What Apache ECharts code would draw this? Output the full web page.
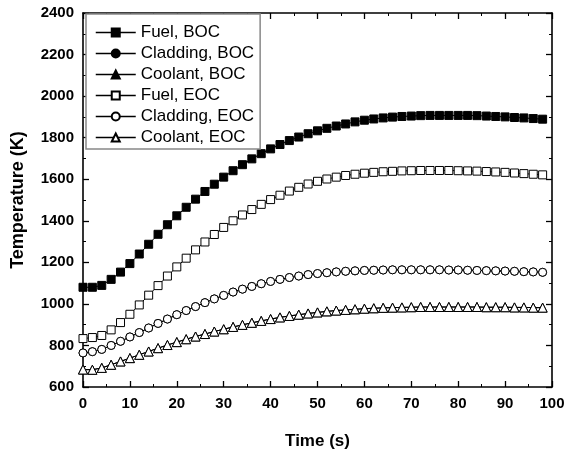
<!DOCTYPE html>
<html>
<head>
<meta charset="utf-8">
<script src="https://cdn.jsdelivr.net/npm/echarts@6/dist/echarts.min.js"></script>
<style>
html,body{margin:0;padding:0;background:#fff;}
#chart{width:573px;height:455px;}
</style>
</head>
<body>
<div id="chart"></div>
<script>
var times = [0,2,4,6,8,10,12,14,16,18,20,22,24,26,28,30,32,34,36,38,40,42,44,46,48,50,52,54,56,58,60,62,64,66,68,70,72,74,76,78,80,82,84,86,88,90,92,94,96,98];

var fuelBOC = [1080,1080,1089,1118,1153,1194,1240,1287,1335,1381,1424,1465,1504,1541,1576,1610,1641,1670,1698,1723,1746,1767,1786,1803,1819,1833,1845,1856,1866,1876,1884,1890,1895,1899,1902,1904,1906,1907,1907,1907,1907,1907,1906,1904,1902,1900,1897,1895,1892,1889];
var claddingBOC = [764,770,781,800,820,841,862,884,906,927,948,968,987,1006,1024,1041,1057,1071,1084,1097,1108,1118,1127,1134,1141,1146,1150,1154,1157,1159,1161,1162,1163,1164,1164,1164,1164,1164,1164,1163,1163,1162,1161,1160,1159,1158,1157,1155,1154,1152];
var coolantBOC = [684,683,692,707,723,739,755,771,787,802,816,830,843,855,867,878,889,899,909,918,927,935,942,948,954,959,964,968,971,974,977,979,981,982,983,984,985,985,985,985,985,985,985,984,984,984,983,983,982,982];
var fuelEOC = [833,838,848,875,910,950,995,1042,1088,1134,1178,1220,1260,1298,1334,1368,1400,1428,1454,1479,1502,1523,1543,1561,1577,1590,1601,1610,1618,1624,1629,1633,1636,1638,1640,1641,1642,1642,1642,1642,1641,1640,1639,1637,1635,1633,1630,1627,1624,1621];
var claddingEOC = [764,770,781,800,820,841,862,884,906,927,948,968,987,1006,1024,1041,1057,1071,1084,1097,1108,1118,1127,1134,1141,1146,1150,1154,1157,1159,1161,1162,1163,1164,1164,1164,1164,1164,1164,1163,1163,1162,1161,1160,1159,1158,1157,1155,1154,1152];
var coolantEOC = [684,683,692,707,723,739,755,771,787,802,816,830,843,855,867,878,889,899,909,918,927,935,942,948,954,959,964,968,971,974,977,979,981,982,983,984,985,985,985,985,985,985,985,984,984,984,983,983,982,982];

var seriesNames = ['Fuel, BOC','Cladding, BOC','Coolant, BOC','Fuel, EOC','Cladding, EOC','Coolant, EOC'];
var xTicks = {min:0, max:100, interval:10};
var yTicks = {min:600, max:2400, interval:200};

var FONT = '"Liberation Sans", Arial, sans-serif';

function pairs(arr){ return times.map(function(t,i){ return [t, arr[i]]; }); }

function mkSeries(name, arr, symbol, size, filled){
  return {
    name: name, type: 'line', data: pairs(arr),
    symbol: symbol, symbolSize: size, showSymbol: true,
    xAxisIndex: 0, yAxisIndex: 0,
    lineStyle: {color:'#000', width:1},
    itemStyle: {color: filled ? '#000' : '#fff', borderColor:'#000', borderWidth:1},
    emphasis: {disabled:true}
  };
}

function axisCommon(extra){
  var a = {
    type:'value',
    axisLine:{show:true, onZero:false, lineStyle:{color:'#000', width:1.6}},
    axisTick:{show:true, inside:true, length:6, lineStyle:{color:'#000', width:1.3}},
    minorTick:{show:true, splitNumber:2, length:3, lineStyle:{color:'#000', width:1}},
    splitLine:{show:false},
    minorSplitLine:{show:false}
  };
  for (var k in extra) a[k] = extra[k];
  return a;
}

function plain(v){ return String(v); }

var chart = echarts.init(document.getElementById('chart'), null, {renderer:'canvas'});
chart.setOption({
  animation:false,
  backgroundColor:'#fff',
  textStyle:{fontFamily:FONT},
  grid:{left:83, right:21, top:13, bottom:63, containLabel:false},
  legend:{
    orient:'vertical', left:86, top:14,
    data: seriesNames,
    itemWidth:40, itemHeight:10, itemGap:4,
    padding:[10,6,3,9],
    borderColor:'#888', borderWidth:1.5,
    backgroundColor:'#fff',
    lineStyle:{width:1.5},
    textStyle:{fontFamily:FONT, fontSize:17, color:'#000', lineHeight:17},
    selectedMode:false
  },
  xAxis:[
    axisCommon({position:'bottom', min:xTicks.min, max:xTicks.max, interval:xTicks.interval,
      name:'Time (s)', nameLocation:'middle', nameGap:46,
      nameTextStyle:{fontFamily:FONT, fontSize:17, fontWeight:'bold', color:'#000'},
      axisLabel:{show:true, margin:9, fontFamily:FONT, fontSize:15, fontWeight:'bold', color:'#000', formatter:plain}}),
    axisCommon({position:'top', min:xTicks.min, max:xTicks.max, interval:xTicks.interval,
      axisLabel:{show:false}})
  ],
  yAxis:[
    axisCommon({position:'left', min:yTicks.min, max:yTicks.max, interval:yTicks.interval,
      name:'Temperature (K)', nameLocation:'middle', nameGap:56,
      nameTextStyle:{fontFamily:FONT, fontSize:18, fontWeight:'bold', color:'#000'},
      axisLabel:{show:true, margin:9, fontFamily:FONT, fontSize:15, fontWeight:'bold', color:'#000', formatter:plain}}),
    axisCommon({position:'right', min:yTicks.min, max:yTicks.max, interval:yTicks.interval,
      axisLabel:{show:false}})
  ],
  series:[
    mkSeries(seriesNames[0], fuelBOC, 'rect', 8, true),
    mkSeries(seriesNames[1], claddingBOC, 'circle', 8, true),
    mkSeries(seriesNames[2], coolantBOC, 'triangle', 9, true),
    mkSeries(seriesNames[3], fuelEOC, 'rect', 8, false),
    mkSeries(seriesNames[4], claddingEOC, 'circle', 8, false),
    mkSeries(seriesNames[5], coolantEOC, 'triangle', 9, false)
  ]
});
</script>
</body>
</html>
